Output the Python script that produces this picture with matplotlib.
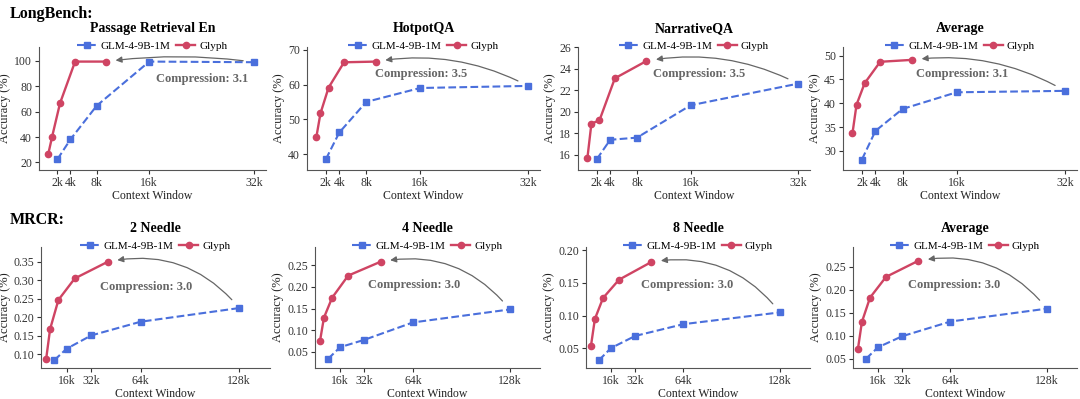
import matplotlib.pyplot as plt
from matplotlib.lines import Line2D

plt.rcParams['font.family'] = ['Liberation Serif', 'DejaVu Serif']

# LongBench (context in k tokens)
lb_glm_x = [2, 4, 8, 16, 32]
lb_glyph_x = [0.6, 1.2, 2.4, 4.7, 9.4]
lb_titles = ["Passage Retrieval En", "HotpotQA", "NarrativeQA", "Average"]
lb_glm = [
    [22.4, 38.2, 64.7, 99.5, 99.0],
    [38.5, 46.2, 55.0, 59.0, 59.6],
    [15.6, 17.4, 17.6, 20.6, 22.6],
    [28.2, 34.2, 38.8, 42.3, 42.6],
]
lb_glyph = [
    [26.3, 40.3, 66.6, 99.5, 99.5],
    [45.0, 51.7, 59.1, 66.4, 66.6],
    [15.7, 18.9, 19.2, 23.1, 24.7],
    [33.7, 39.7, 44.2, 48.7, 49.1],
]
lb_comp = ["3.1", "3.5", "3.5", "3.1"]
lb_yticks = [[20, 40, 60, 80, 100], [40, 50, 60, 70], [16, 18, 20, 22, 24, 26], [30, 35, 40, 45, 50]]
lb_ylim = [(14, 111), (35.4, 70.8), (14.6, 26.0), (26, 51.8)]

# MRCR
mr_glm_x = [8, 16, 32, 64, 128]
mr_glyph_x = [2.7, 5.3, 10.7, 21.3, 42.7]
mr_titles = ["2 Needle", "4 Needle", "8 Needle", "Average"]
mr_glm = [
    [0.084, 0.115, 0.151, 0.188, 0.225],
    [0.034, 0.061, 0.078, 0.118, 0.148],
    [0.032, 0.0505, 0.069, 0.087, 0.105],
    [0.050, 0.075, 0.099, 0.131, 0.159],
]
mr_glyph = [
    [0.086, 0.168, 0.247, 0.305, 0.350],
    [0.075, 0.129, 0.175, 0.226, 0.258],
    [0.054, 0.095, 0.127, 0.155, 0.182],
    [0.072, 0.130, 0.183, 0.228, 0.263],
]
mr_comp = ["3.0", "3.0", "3.0", "3.0"]
mr_yticks = [[0.10, 0.15, 0.20, 0.25, 0.30, 0.35], [0.05, 0.10, 0.15, 0.20, 0.25],
             [0.05, 0.10, 0.15, 0.20], [0.05, 0.10, 0.15, 0.20, 0.25]]
mr_ylim = [(0.063, 0.39), (0.013, 0.292), (0.020, 0.205), (0.030, 0.293)]

BLUE = "#4A6FDC"
RED = "#CF4463"
GRAY = "#666666"
W, H = 1080, 399

fig = plt.figure(figsize=(10.8, 3.99), dpi=100)

top_boxes = [(39, 227), (307, 233), (578, 232), (843, 234)]
bot_boxes = [(41, 229), (315, 225), (586, 224), (853, 224)]
top_text = [(0.72, 0.74), (0.49, 0.78), (0.52, 0.78), (0.51, 0.78)]
bot_text = [(0.46, 0.67), (0.44, 0.69), (0.45, 0.69), (0.45, 0.69)]
top_rad = [0.07, 0.17, 0.17, 0.17]


def panel(box, y0, y1, title, gx, gy, hx, hy, comp, yticks, ylim, xticks, xlabels, xlim, tpos, fmt, rad):
    ax = fig.add_axes([box[0] / W, 1 - y1 / H, box[1] / W, (y1 - y0) / H])
    ax.plot(gx, gy, ls="--", color=BLUE, marker="s", ms=4, lw=1.5)
    ax.plot(hx, hy, ls="-", color=RED, marker="o", ms=4.5, lw=1.7)
    ax.set_xlim(*xlim)
    ax.set_ylim(*ylim)
    ax.set_xticks(xticks)
    ax.set_xticklabels(xlabels)
    ax.set_yticks(yticks)
    ax.set_yticklabels([fmt.format(v) for v in yticks])
    for s in ["top", "right"]:
        ax.spines[s].set_visible(False)
    for s in ["left", "bottom"]:
        ax.spines[s].set_color("#555555")
        ax.spines[s].set_linewidth(0.8)
    ax.tick_params(labelsize=8.5, colors="#333333", length=3, width=0.8, pad=2)
    ax.set_xlabel("Context Window", fontsize=8.5, labelpad=1, color="#222222")
    ax.set_ylabel("Accuracy (%)", fontsize=9, labelpad=2, color="#222222")
    ax.set_title(title, fontsize=10, fontweight="bold", pad=11)
    handles = [
        Line2D([], [], ls="--", color=BLUE, marker="s", ms=4, lw=1.5),
        Line2D([], [], ls="-", color=RED, marker="o", ms=4.5, lw=1.7),
    ]
    ax.legend(handles, ["GLM-4-9B-1M", "Glyph"], loc="center", bbox_to_anchor=(0.5, 1.01),
              ncol=2, frameon=False, fontsize=8, handlelength=1.7, columnspacing=0.5,
              handletextpad=0.4, borderpad=0)
    ax.annotate("", xy=(hx[-1], hy[-1]), xytext=(gx[-1], gy[-1]),
                arrowprops=dict(arrowstyle="-|>", color=GRAY, lw=0.9, mutation_scale=9,
                                shrinkA=8, shrinkB=7, connectionstyle=f"arc3,rad={rad}"))
    ax.text(tpos[0], tpos[1], "Compression: " + comp, transform=ax.transAxes, ha="center",
            va="center", fontsize=9, fontweight="bold", color=GRAY)


for i in range(4):
    panel(top_boxes[i], 47, 170, lb_titles[i], lb_glm_x, lb_glm[i], lb_glyph_x, lb_glyph[i],
          lb_comp[i], lb_yticks[i], lb_ylim[i], lb_glm_x, ["2k", "4k", "8k", "16k", "32k"],
          (-0.8, 33.8), top_text[i], "{:g}", top_rad[i])
    panel(bot_boxes[i], 247, 368, mr_titles[i], mr_glm_x, mr_glm[i], mr_glyph_x, mr_glyph[i],
          mr_comp[i], mr_yticks[i], mr_ylim[i], [16, 32, 64, 128], ["16k", "32k", "64k", "128k"],
          (-0.6, 148), bot_text[i], "{:.2f}", 0.3)

fig.text(10 / W, 1 - 14 / H, "LongBench:", fontsize=11.5, fontweight="bold", va="center")
fig.text(10 / W, 1 - 220 / H, "MRCR:", fontsize=11.5, fontweight="bold", va="center")

fig.savefig("out.png", dpi=100)
